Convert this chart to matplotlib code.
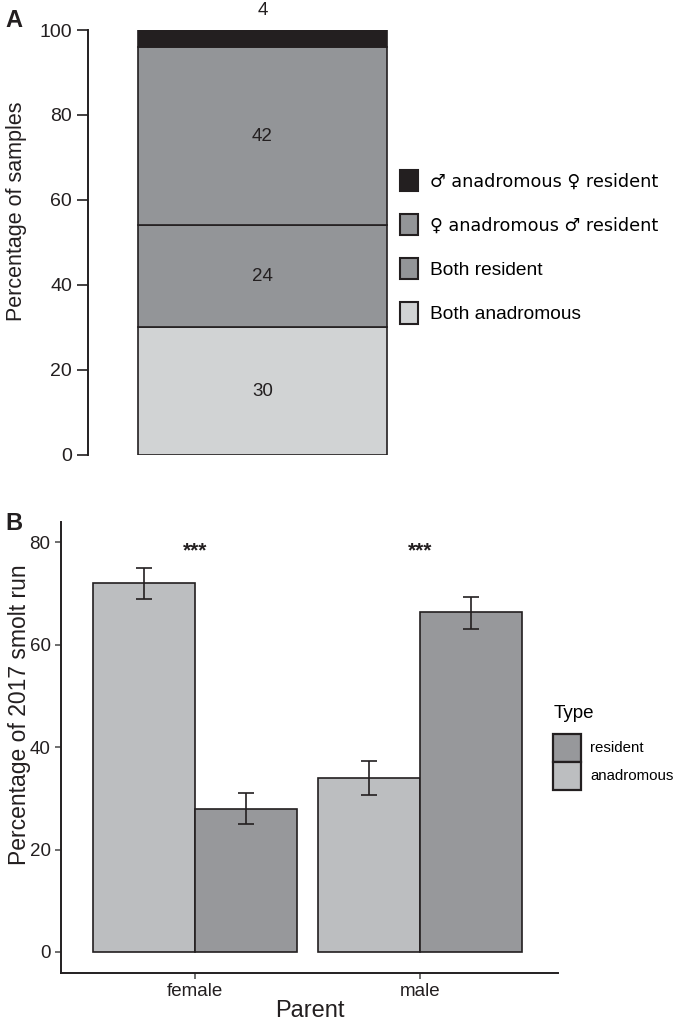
import matplotlib
matplotlib.use('Agg')
import matplotlib.pyplot as plt
import numpy as np
from matplotlib.patches import Patch

plt.rcParams['font.family'] = ['Liberation Sans', 'DejaVu Sans']

# Panel A data (bottom to top)
seg_labels = ['Both anadromous', 'Both resident',
              '\u2640 anadromous \u2642 resident', '\u2642 anadromous \u2640 resident']
seg_values = [30, 24, 42, 4]
seg_colors = ['#d1d3d4', '#939598', '#939598', '#231f20']

# Panel B data
parents = ['female', 'male']
types = ['anadromous', 'resident']
pct = {'anadromous': [72, 34], 'resident': [28, 66.3]}
err_lo = {'anadromous': [68.8, 30.7], 'resident': [25.0, 63.0]}
err_hi = {'anadromous': [75.0, 37.2], 'resident': [31.1, 69.3]}
type_colors = {'anadromous': '#bcbec0', 'resident': '#97989b'}
stars = ['***', '***']

edge = '#231f20'
fig = plt.figure(figsize=(6.85, 10.24), dpi=100)

# ---- Panel A ----
axA = fig.add_axes([0.1285, 0.5557, 0.5095, 0.415])
bottom = 0
for lab, v, c in zip(seg_labels, seg_values, seg_colors):
    axA.bar(0, v, width=0.713, bottom=bottom, color=c, edgecolor=edge, linewidth=1.2)
    if v >= 10:
        axA.text(0, bottom + v / 2, str(v), ha='center', va='center', fontsize=13.5, color='#231f20')
    else:
        axA.text(0, bottom + v + 4.6, str(v), ha='center', va='center', fontsize=13.5, color='#231f20')
    bottom += v
axA.set_xlim(-0.5, 0.5)
axA.set_ylim(0, 100)
axA.set_yticks([0, 20, 40, 60, 80, 100])
axA.set_xticks([])
for s in ['top', 'right', 'bottom']:
    axA.spines[s].set_visible(False)
axA.spines['left'].set_color(edge)
axA.spines['left'].set_linewidth(1.4)
axA.tick_params(axis='y', labelsize=14, length=8, width=1.2, color=edge, labelcolor='#231f20')
axA.set_ylabel('Percentage of samples', fontsize=15.5, color='#231f20')
axA.yaxis.set_label_coords(-0.175, 0.574)

handlesA = [Patch(facecolor=c, edgecolor=edge, linewidth=1.5) for c in seg_colors[::-1]]
legA = axA.legend(handlesA, seg_labels[::-1], loc='center left', bbox_to_anchor=(0.845, 0.49),
                  frameon=False, fontsize=13.8, handlelength=0.95, handleheight=1.32,
                  labelspacing=1.2, handletextpad=0.6)
for t in legA.get_texts():
    if '\u2640' in t.get_text():
        t.set_fontfamily(['DejaVu Sans'])
        t.set_fontsize(12.7)

fig.text(0.008, 0.991, 'A', fontsize=17, fontweight='bold', va='top', color='#231f20')

# ---- Panel B ----
axB = fig.add_axes([0.089, 0.0498, 0.726, 0.4404])
x = np.arange(1, len(parents) + 1)
w = 0.453
offs = {'anadromous': -w / 2, 'resident': w / 2}
for t in types:
    xs = x + offs[t]
    axB.bar(xs, pct[t], width=w, color=type_colors[t], edgecolor=edge, linewidth=1.2)
    lo = np.array(pct[t]) - np.array(err_lo[t])
    hi = np.array(err_hi[t]) - np.array(pct[t])
    axB.errorbar(xs, pct[t], yerr=[lo, hi], fmt='none', ecolor=edge, elinewidth=1.2,
                 capsize=6, capthick=1.2)
for xi, s in zip(x, stars):
    axB.text(xi, 78.3, s, ha='center', va='center', fontsize=15, fontweight='bold', color='#231f20')
axB.set_xlim(0.404, 2.613)
axB.set_ylim(-4.1, 83.9)
axB.set_xticks(x)
axB.set_xticklabels(parents)
axB.set_yticks([0, 20, 40, 60, 80])
for s in ['top', 'right']:
    axB.spines[s].set_visible(False)
for s in ['left', 'bottom']:
    axB.spines[s].set_color(edge)
    axB.spines[s].set_linewidth(1.4)
axB.tick_params(labelsize=13.5, length=4, width=1.2, color='#555555', labelcolor='#231f20')
axB.set_ylabel('Percentage of 2017 smolt run', fontsize=16.5, color='#231f20')
axB.yaxis.set_label_coords(-0.06, 0.572)
axB.set_xlabel('Parent', fontsize=17, color='#231f20', labelpad=0)

handlesB = [Patch(facecolor=type_colors[t], edgecolor=edge, linewidth=1.6) for t in ['resident', 'anadromous']]
legB = axB.legend(handlesB, ['resident', 'anadromous'], title='Type', loc='center left',
                  bbox_to_anchor=(0.963, 0.50), frameon=False, fontsize=10.8, title_fontsize=13.5,
                  handlelength=1.85, handleheight=2.5, labelspacing=0.0, handletextpad=0.6)
legB._legend_box.align = 'left'
legB._legend_box.sep = 8

fig.text(0.008, 0.5, 'B', fontsize=17, fontweight='bold', va='top', color='#231f20')

fig.savefig('out.png', dpi=100)
